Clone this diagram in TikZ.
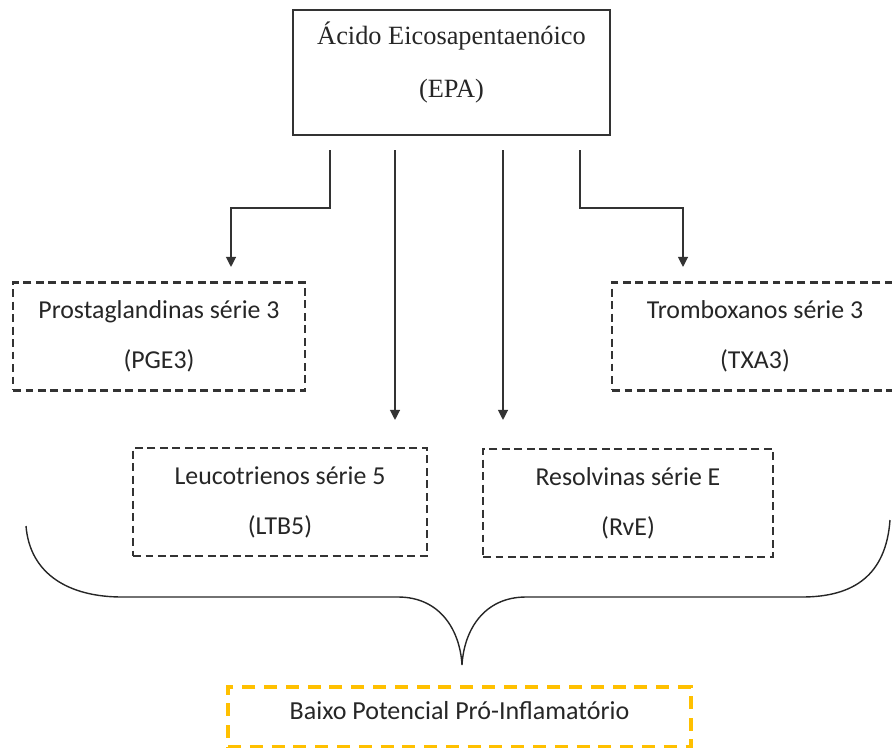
\documentclass[tikz,border=0pt]{standalone}
\usepackage{fontspec}
\setmainfont{Liberation Serif}
\newfontfamily\calibri{Carlito}
\usetikzlibrary{shapes,arrows,calc,arrows.meta}
\definecolor{ouro}{HTML}{FFC000}

\tikzset{
  caixa/.style={draw=black!80, line width=1.3pt, dash pattern=on 4.5pt off 2.6pt,
    font=\calibri\fontsize{14.7}{28.5}\selectfont, align=center, text=black!85,
    minimum height=2.16cm},
  seta/.style={draw=black!80, line width=0.9pt, -{Triangle[length=5.7pt,width=5.6pt]}}
}

\begin{document}
\begin{tikzpicture}[x=0.02cm, y=-0.02cm]
            \useasboundingbox (0,0) rectangle (892,747);
            \draw (451.5,72.5) node[draw=black!80, line width=1.2pt, minimum width=6.34cm, minimum height=2.5cm,
              align=center, font=\fontsize{15}{30}\selectfont, text=black!85, text depth=14.5pt] (epa) {Ácido Eicosapentaenóico\\(EPA)};
            \draw (159,336.5) node[caixa, minimum width=5.84cm] (pge) {Prostaglandinas série 3\\(PGE3)};
            \draw (755,336.5) node[caixa, minimum width=5.72cm] (txa) {Tromboxanos série 3\\(TXA3)};
            \draw (280,502) node[caixa, minimum width=5.88cm] (ltb) {Leucotrienos série 5\\(LTB5)};
            \draw (628,503) node[caixa, minimum width=5.8cm] (rve) {Resolvinas série E\\(RvE)};
            \draw (459.5,717) node[draw=ouro, line width=1.8pt, dash pattern=on 7.4pt off 5pt,
              minimum width=9.26cm, minimum height=1.2cm, font=\calibri\fontsize{14.8}{17}\selectfont,
              text=black!85, text depth=7pt] (baixo) {Baixo Potencial Pró-Inflamatório};

            % saidas e chegadas das setas
            \coordinate (s1) at (330,150);
            \coordinate (s2) at (395,150);
            \coordinate (s3) at (503,150);
            \coordinate (s4) at (580,150);
            \coordinate (c1) at (231,267);
            \coordinate (c2) at (395,420);
            \coordinate (c3) at (503,420);
            \coordinate (c4) at (683,267);
            \draw[seta] (s1) -- ++(0,58) -| (c1);
            \draw[seta] (s4) -- ++(0,58) -| (c4);
            \path (s2) edge[seta] (c2)
                  (s3) edge[seta] (c3);

            % chave
            \draw[black!85, line width=0.8pt] (26,526) .. controls (30,575) and (70,597) .. (122,597)
              -- (398,597) .. controls (440,597) and (460,630) .. (462,665)
              .. controls (464,630) and (484,597) .. (526,597)
              -- (802,597) .. controls (854,597) and (886,575) .. (890,520);
        \end{tikzpicture}
\end{document}
